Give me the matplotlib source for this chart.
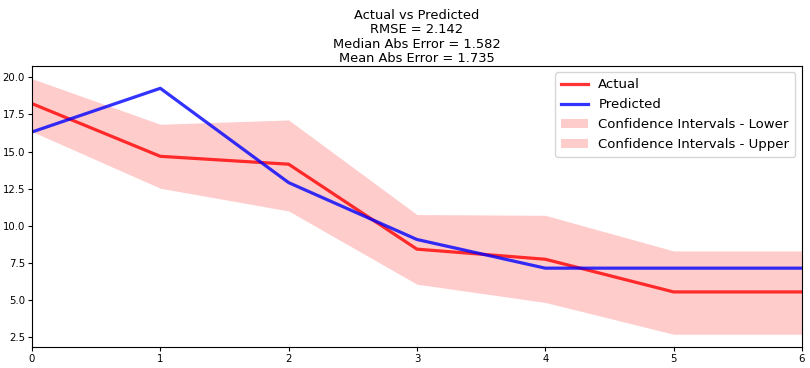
import matplotlib
matplotlib.use("Agg")
import matplotlib.pyplot as plt

x = [0, 1, 2, 3, 4, 5, 6]
actual = [18.23, 14.68, 14.15, 8.43, 7.75, 5.55, 5.55]
predicted = [16.32, 19.26, 12.91, 9.08, 7.15, 7.15, 7.15]
ci_lower = [16.35, 12.53, 11.0, 6.07, 4.84, 2.7, 2.7]
ci_upper = [19.91, 16.84, 17.13, 10.76, 10.71, 8.31, 8.31]

title = "Actual vs Predicted\nRMSE = 2.142\nMedian Abs Error = 1.582\nMean Abs Error = 1.735"

fig = plt.figure(figsize=(8.1, 3.68), dpi=100)
ax = fig.add_axes([0.0395, 0.057, 0.9505, 0.764])
ax.plot(x, actual, color="red", alpha=0.8, lw=2.3, label="Actual")
ax.plot(x, predicted, color="blue", alpha=0.8, lw=2.3, label="Predicted")
ax.fill_between(x, ci_lower, actual, color="red", alpha=0.2, lw=0,
                label="Confidence Intervals - Lower")
ax.fill_between(x, actual, ci_upper, color="red", alpha=0.2, lw=0,
                label="Confidence Intervals - Upper")
ax.set_xlim(0, 6)
ax.set_yticks([2.5, 5.0, 7.5, 10.0, 12.5, 15.0, 17.5, 20.0])
ax.tick_params(labelsize=7.3, length=3, pad=2)
ax.set_title(title, fontsize=9.4, linespacing=1.12, pad=3)
ax.legend(loc="upper right", fontsize=9.5, handlelength=2.0,
          borderpad=0.45, labelspacing=0.52)
fig.savefig("out.png", dpi=100)
